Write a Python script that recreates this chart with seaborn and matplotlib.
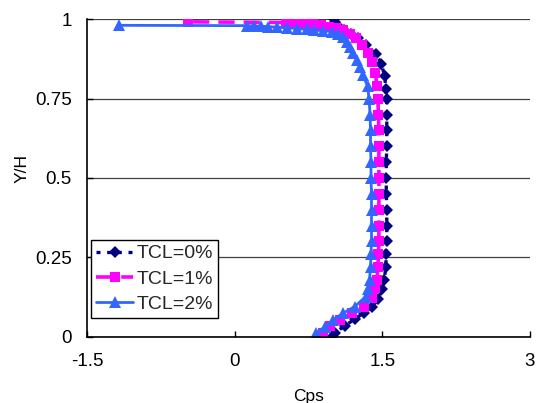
#!/usr/bin/env python3
"""Cps profile vs Y/H for three TCL levels (Excel-style line/marker chart)."""
import matplotlib
matplotlib.use("Agg")
import matplotlib.pyplot as plt
from matplotlib.ticker import FormatStrFormatter
import pandas as pd
import seaborn as sns

# TCL=0% (navy diamonds)
y_tcl0 = [0.0, 0.012, 0.035, 0.055, 0.075, 0.095, 0.12, 0.15, 0.18, 0.22,
          0.26, 0.30, 0.35, 0.40, 0.45, 0.50, 0.55, 0.60, 0.65, 0.70,
          0.75, 0.78, 0.82, 0.86, 0.89, 0.92, 0.94, 0.955, 0.967, 0.977,
          0.99, 1.0]
x_tcl0 = [0.99, 1.02, 1.12, 1.22, 1.31, 1.40, 1.46, 1.50, 1.52, 1.535,
          1.54, 1.545, 1.545, 1.545, 1.54, 1.54, 1.54, 1.545, 1.545, 1.545,
          1.545, 1.535, 1.525, 1.49, 1.435, 1.33, 1.25, 1.18, 1.11, 1.06,
          1.02, 1.01]

# TCL=1% (magenta squares)
y_tcl1 = [0.0, 0.012, 0.034, 0.053, 0.074, 0.095, 0.121, 0.152, 0.18, 0.22,
          0.26, 0.30, 0.35, 0.40, 0.45, 0.50, 0.55, 0.60, 0.65, 0.70,
          0.75, 0.79, 0.83, 0.865, 0.895, 0.92, 0.94, 0.955, 0.965, 0.972,
          0.977, 0.981, 0.984, 0.986, 0.988, 0.99, 0.992]
x_tcl1 = [0.89, 0.90, 0.97, 1.07, 1.19, 1.31, 1.39, 1.43, 1.445, 1.455,
          1.46, 1.465, 1.465, 1.465, 1.465, 1.465, 1.465, 1.465, 1.465, 1.46,
          1.455, 1.445, 1.43, 1.40, 1.35, 1.29, 1.23, 1.17, 1.10, 1.03,
          0.96, 0.88, 0.80, 0.70, 0.60, 0.52, -0.47]

# TCL=2% (blue triangles)
y_tcl2 = [0.0, 0.012, 0.032, 0.053, 0.074, 0.095, 0.126, 0.15, 0.18, 0.22,
          0.26, 0.30, 0.35, 0.40, 0.45, 0.50, 0.55, 0.60, 0.65, 0.70,
          0.75, 0.79, 0.825, 0.851, 0.872, 0.893, 0.913, 0.929, 0.945, 0.955,
          0.961, 0.964, 0.966, 0.968, 0.971, 0.973, 0.975, 0.977, 0.978, 0.979,
          0.98, 0.981]
x_tcl2 = [0.82, 0.83, 0.92, 1.00, 1.10, 1.22, 1.33, 1.355, 1.37, 1.38,
          1.385, 1.39, 1.39, 1.39, 1.39, 1.385, 1.385, 1.38, 1.38, 1.375,
          1.365, 1.35, 1.30, 1.27, 1.24, 1.20, 1.17, 1.14, 1.10, 1.05,
          0.99, 0.90, 0.81, 0.73, 0.63, 0.53, 0.43, 0.34, 0.27, 0.20,
          0.13, -1.18]

labels = ["TCL=0%", "TCL=1%", "TCL=2%"]
x_ticks = [-1.5, 0, 1.5, 3]
y_ticks = [0, 0.25, 0.5, 0.75, 1]

sns.set_theme(style="white")
plt.rcParams["font.family"] = ["Liberation Sans", "DejaVu Sans"]

fig = plt.figure(figsize=(5.38, 4.03), dpi=100)
ax = fig.add_axes([87 / 538, 1 - 336.7 / 403, 443 / 538, 317.4 / 403])

styles = [
    dict(color="#000080", marker="D", markersize=6.5, linestyle=(0, (1.2, 2.0)), linewidth=2.4),
    dict(color="#FF00FF", marker="s", markersize=7, linestyle=(0, (4.5, 2.5)), linewidth=2.6),
    dict(color="#3366FF", marker="^", markersize=8, linestyle="-", linewidth=2.0),
]
series = [(x_tcl0, y_tcl0), (x_tcl1, y_tcl1), (x_tcl2, y_tcl2)]
for (xs, ys), lab, st in zip(series, labels, styles):
    df = pd.DataFrame({"Cps": xs, "Y/H": ys})
    sns.lineplot(data=df, x="Cps", y="Y/H", sort=False, estimator=None,
                 label=lab, markeredgewidth=0, ax=ax, **st)

ax.set_xlim(-1.5, 3)
ax.set_ylim(0, 1)
ax.set_xticks(x_ticks)
ax.set_yticks(y_ticks)
ax.xaxis.set_major_formatter(FormatStrFormatter("%g"))
ax.yaxis.set_major_formatter(FormatStrFormatter("%g"))
ax.tick_params(axis="both", direction="in", length=4, width=1, color="black",
               labelsize=13.5, labelcolor="black", bottom=True, left=True)
ax.tick_params(axis="x", pad=12)
ax.tick_params(axis="y", pad=11)

ax.grid(axis="y", color="#404040", linewidth=0.9)
ax.grid(axis="x", visible=False)
ax.set_axisbelow(True)
for side in ("top", "right"):
    ax.spines[side].set_visible(False)
for side in ("left", "bottom"):
    ax.spines[side].set_color("black")
    ax.spines[side].set_linewidth(1.2)

ax.set_xlabel("Cps", fontsize=12.5, color="black")
ax.set_ylabel("Y/H", fontsize=12.5, color="black")
ax.xaxis.set_label_coords(0.5, -0.165)
ax.yaxis.set_label_coords(-0.13, 0.53)

leg = ax.legend(loc="upper left", bbox_to_anchor=(0.01, 0.305), fontsize=14,
                frameon=True, fancybox=False, framealpha=1, edgecolor="black",
                handlelength=1.9, handletextpad=0.2, borderpad=0.25,
                labelspacing=0.4, borderaxespad=0)
leg.get_frame().set_linewidth(1.0)

fig.savefig("out.png", dpi=100)
